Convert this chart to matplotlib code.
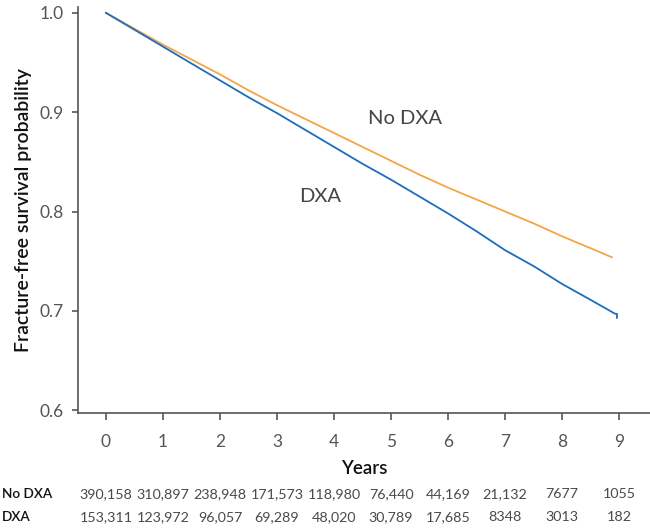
import matplotlib
matplotlib.use("Agg")
import matplotlib.pyplot as plt

# survival curve readings (years, probability)
years = [0, 0.5, 1, 1.5, 2, 2.5, 3, 3.5, 4, 4.5, 5, 5.5, 6, 6.5, 7, 7.5, 8, 8.5]
no_dxa = [1.0, 0.984, 0.968, 0.953, 0.938, 0.922, 0.907, 0.893, 0.879, 0.865,
          0.851, 0.837, 0.824, 0.812, 0.800, 0.788, 0.775, 0.763]
dxa = [1.0, 0.983, 0.966, 0.949, 0.932, 0.915, 0.899, 0.882, 0.865, 0.848,
       0.832, 0.815, 0.798, 0.780, 0.761, 0.745, 0.727, 0.711]
no_dxa_end = (8.87, 0.754)
dxa_end = [(8.93, 0.697), (8.96, 0.697), (8.96, 0.693)]

x_ticks = [0, 1, 2, 3, 4, 5, 6, 7, 8, 9]
y_ticks = [0.6, 0.7, 0.8, 0.9, 1.0]

# numbers at risk
risk_no_dxa = ["390,158", "310,897", "238,948", "171,573", "118,980",
               "76,440", "44,169", "21,132", "7677", "1055"]
risk_dxa = ["153,311", "123,972", "96,057", "69,289", "48,020",
            "30,789", "17,685", "8348", "3013", "182"]

orange = "#F5A542"
blue = "#1C6DBE"
grey = "#555555"
font = "Lato"

fig = plt.figure(figsize=(6.5, 5.29), dpi=100)
ax = fig.add_axes([0.12, 0.219, 0.88, 0.768])

ax.plot(years + [no_dxa_end[0]], no_dxa + [no_dxa_end[1]], color=orange, lw=1.3)
ax.plot(years + [p[0] for p in dxa_end], dxa + [p[1] for p in dxa_end], color=blue, lw=1.3)

ax.set_xlim(-0.49, 9.54)
ax.set_ylim(0.597, 1.006)
ax.set_xticks(x_ticks)
ax.set_yticks(y_ticks)
ax.set_xticklabels([str(v) for v in x_ticks], fontfamily=font, fontsize=12.5,
                   color="#555555")
ax.set_yticklabels(["%.1f" % v for v in y_ticks], fontfamily=font, fontsize=12.5,
                   color="#555555")
ax.tick_params(axis="x", direction="out", length=5, width=1.2, color=grey, pad=10)
ax.tick_params(axis="y", direction="out", length=4.5, width=1.2, color=grey, pad=5.5)

for s in ["top", "right"]:
    ax.spines[s].set_visible(False)
for s in ["left", "bottom"]:
    ax.spines[s].set_color(grey)
    ax.spines[s].set_linewidth(1.2)

ax.set_ylabel("Fracture-free survival probability", fontfamily=font, fontweight="semibold",
              fontsize=14, color="#111111", labelpad=6)
ax.set_xlabel("Years", fontfamily=font, fontweight="semibold", fontsize=13.5,
              color="#111111", labelpad=7)

ax.text(5.25, 0.894, "No DXA", fontfamily=font, fontsize=14.5,
        color="#444444", ha="center", va="center")
ax.text(3.76, 0.815, "DXA", fontfamily=font, fontsize=14.5,
        color="#444444", ha="center", va="center")

# number at risk table
row_y = [494, 517]
for label, vals, yp in [("No DXA", risk_no_dxa, row_y[0]), ("DXA", risk_dxa, row_y[1])]:
    yf = 1 - yp / 529
    fig.text(0.003, yf, label, fontfamily=font, fontweight="semibold", fontsize=9.8,
             color="#111111", ha="left", va="center")
    for xv, v in zip(x_ticks, vals):
        xf = ax.transData.transform((xv, 0.7))[0] / fig.bbox.width
        fig.text(xf, yf, v, fontfamily=font, fontsize=10.3,
                 color="#4a4a4a", ha="center", va="center")

fig.savefig("out.png", dpi=100)
